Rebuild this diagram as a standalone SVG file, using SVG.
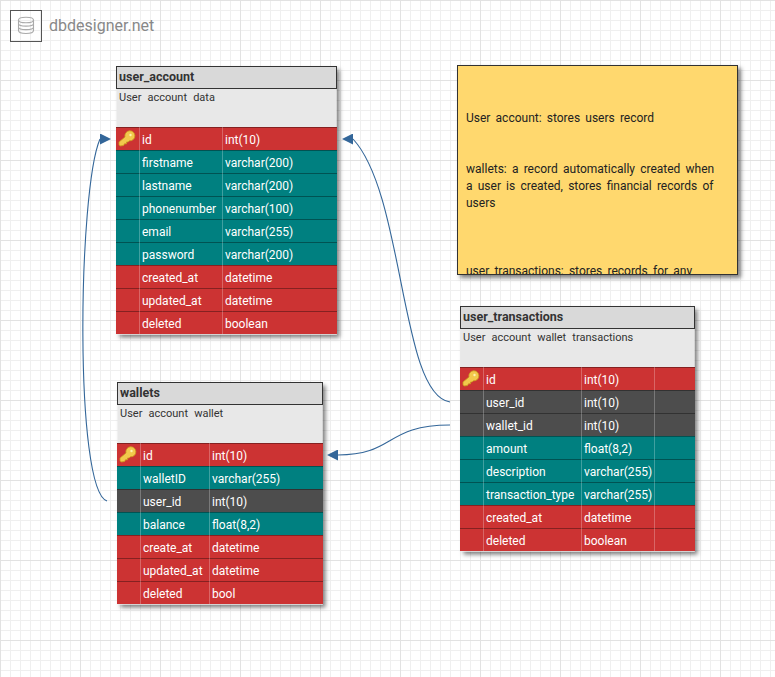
<svg xmlns="http://www.w3.org/2000/svg" width="775" height="677" viewBox="0 0 775 677">
<style>
text{font-family:Roboto,"Liberation Sans",sans-serif}
.t{font-size:12.5px;font-weight:700;fill:#333}
.d{font-size:11px;fill:#333;word-spacing:3.4px}
.c{font-size:12px;fill:#fff}
.n{font-size:12px;fill:#222;word-spacing:2.2px}
.hd{fill:#d9d9d9;stroke:#333;stroke-width:1}
.ds{fill:#e8e8e8}
.r{fill:#cc3333}.g{fill:#008080}.k{fill:#4d4d4d}
.sep{stroke:#000;stroke-opacity:.35;stroke-width:1}
.col{stroke:#fff;stroke-opacity:.25;stroke-width:1}
.conn{fill:none;stroke:#336699;stroke-width:1.1}
.key{fill:#f2c94c;stroke:#c99a1e;stroke-width:.8}
</style>
<defs>
<pattern id="minor" width="10" height="10" patternUnits="userSpaceOnUse"><path d="M.5 0V10M0 .5H10" fill="none" stroke="#efefef"/></pattern>
<pattern id="major" width="80" height="80" patternUnits="userSpaceOnUse"><path d="M.5 0V80M0 .5H80" fill="none" stroke="#e2e2e2"/></pattern>
<filter id="sh" x="-10%" y="-10%" width="120%" height="120%"><feDropShadow dx="3" dy="3" stdDeviation="2" flood-color="#000" flood-opacity=".5"/></filter>
<marker id="aL" markerWidth="11" markerHeight="11" refX="11" refY="5.5" orient="0" markerUnits="userSpaceOnUse"><path d="M0 5.5L11 0V11Z" fill="#336699"/></marker>
<marker id="aR" markerWidth="11" markerHeight="11" refX="0" refY="5.5" orient="0" markerUnits="userSpaceOnUse"><path d="M11 5.5L0 0V11Z" fill="#336699"/></marker>
<clipPath id="nc"><rect x="458" y="66" width="279" height="208"/></clipPath>
<g id="keyicon"><path class="key" d="M0 13.500L0 11L6 6A5 5 0 1 1 10.500 9.800L9 11L7.500 11L7.500 12.800L5.500 12.800L4.500 14.500L1 15Z"/><circle cx="11.500" cy="4" r="1.200" fill="#fff2b0"/></g>
</defs>
<rect width="775" height="677" fill="#fff"/>
<rect width="775" height="677" fill="url(#minor)"/>
<rect width="775" height="677" fill="url(#major)"/>

<g id="logo">
<rect x="10.500" y="10.500" width="31" height="31" fill="none" stroke="#555" stroke-width="1"/>
<g fill="none" stroke="#aaa" stroke-width="1.100"><ellipse cx="26" cy="20" rx="7.500" ry="2.800"/><path d="M18.500 20V30.500C18.500 34.500 33.500 34.500 33.500 30.500V20M18.500 23.500C18.500 27 33.500 27 33.500 23.500M18.500 27C18.500 30.500 33.500 30.500 33.500 27"/></g>
<text x="49" y="31" font-size="16" fill="#888">dbdesigner.net</text>
</g>

<g id="user_account">
<rect x="116.500" y="66.500" width="220" height="268" fill="#e8e8e8" filter="url(#sh)"/>
<rect class="hd" x="116.500" y="66.500" width="220" height="22"/>
<rect class="ds" x="117" y="89" width="219" height="38"/>
<text class="t" x="119" y="81">user_account</text>
<text class="d" x="119" y="101">User account data</text>
<rect class="r" x="116" y="127" width="221" height="23"/>
<rect class="g" x="116" y="150" width="221" height="115"/>
<rect class="r" x="116" y="265" width="221" height="69"/>
<path class="sep" d="M116 127.500H337M116 150.500H337M116 173.500H337M116 196.500H337M116 219.500H337M116 242.500H337M116 265.500H337M116 288.500H337M116 311.500H337"/>
<path class="col" d="M139.500 127V334M222.500 127V334"/>
<use href="#keyicon" x="119" y="131"/>
<text class="c" x="142" y="144">id</text><text class="c" x="225" y="144">int(10)</text>
<text class="c" x="142" y="167">firstname</text><text class="c" x="225" y="167">varchar(200)</text>
<text class="c" x="142" y="190">lastname</text><text class="c" x="225" y="190">varchar(200)</text>
<text class="c" x="142" y="213">phonenumber</text><text class="c" x="225" y="213">varchar(100)</text>
<text class="c" x="142" y="236">email</text><text class="c" x="225" y="236">varchar(255)</text>
<text class="c" x="142" y="259">password</text><text class="c" x="225" y="259">varchar(200)</text>
<text class="c" x="142" y="282">created_at</text><text class="c" x="225" y="282">datetime</text>
<text class="c" x="142" y="305">updated_at</text><text class="c" x="225" y="305">datetime</text>
<text class="c" x="142" y="328">deleted</text><text class="c" x="225" y="328">boolean</text>
</g>

<g id="wallets">
<rect x="117.500" y="382.500" width="205" height="222" fill="#e8e8e8" filter="url(#sh)"/>
<rect class="hd" x="117.500" y="382.500" width="205" height="22"/>
<rect class="ds" x="118" y="405" width="204" height="38"/>
<text class="t" x="120" y="397">wallets</text>
<text class="d" x="120" y="417">User account wallet</text>
<rect class="r" x="117" y="443" width="206" height="23"/>
<rect class="g" x="117" y="466" width="206" height="23"/>
<rect class="k" x="117" y="489" width="206" height="23"/>
<rect class="g" x="117" y="512" width="206" height="23"/>
<rect class="r" x="117" y="535" width="206" height="69"/>
<path class="sep" d="M117 443.500H323M117 466.500H323M117 489.500H323M117 512.500H323M117 535.500H323M117 558.500H323M117 581.500H323"/>
<path class="col" d="M140.500 443V604M209.500 443V604"/>
<use href="#keyicon" x="120" y="447"/>
<text class="c" x="143" y="460">id</text><text class="c" x="212" y="460">int(10)</text>
<text class="c" x="143" y="483">walletID</text><text class="c" x="212" y="483">varchar(255)</text>
<text class="c" x="143" y="506">user_id</text><text class="c" x="212" y="506">int(10)</text>
<text class="c" x="143" y="529">balance</text><text class="c" x="212" y="529">float(8,2)</text>
<text class="c" x="143" y="552">create_at</text><text class="c" x="212" y="552">datetime</text>
<text class="c" x="143" y="575">updated_at</text><text class="c" x="212" y="575">datetime</text>
<text class="c" x="143" y="598">deleted</text><text class="c" x="212" y="598">bool</text>
</g>

<g id="user_transactions">
<rect x="460.500" y="306.500" width="234" height="245" fill="#e8e8e8" filter="url(#sh)"/>
<rect class="hd" x="460.500" y="306.500" width="234" height="22"/>
<rect class="ds" x="461" y="329" width="233" height="38"/>
<text class="t" x="463" y="321">user_transactions</text>
<text class="d" x="463" y="341">User account wallet transactions</text>
<rect class="r" x="460" y="367" width="235" height="23"/>
<rect class="k" x="460" y="390" width="235" height="46"/>
<rect class="g" x="460" y="436" width="235" height="69"/>
<rect class="r" x="460" y="505" width="235" height="46"/>
<path class="sep" d="M460 367.500H695M460 390.500H695M460 413.500H695M460 436.500H695M460 459.500H695M460 482.500H695M460 505.500H695M460 528.500H695"/>
<path class="col" d="M483.500 367V551M581.500 367V551M654.500 367V551"/>
<use href="#keyicon" x="463" y="371"/>
<text class="c" x="486" y="384">id</text><text class="c" x="584" y="384">int(10)</text>
<text class="c" x="486" y="407">user_id</text><text class="c" x="584" y="407">int(10)</text>
<text class="c" x="486" y="430">wallet_id</text><text class="c" x="584" y="430">int(10)</text>
<text class="c" x="486" y="453">amount</text><text class="c" x="584" y="453">float(8,2)</text>
<text class="c" x="486" y="476">description</text><text class="c" x="584" y="476">varchar(255)</text>
<text class="c" x="486" y="499">transaction_type</text><text class="c" x="584" y="499">varchar(255)</text>
<text class="c" x="486" y="522">created_at</text><text class="c" x="584" y="522">datetime</text>
<text class="c" x="486" y="545">deleted</text><text class="c" x="584" y="545">boolean</text>
</g>

<g id="note">
<rect x="457.500" y="65.500" width="280" height="209" fill="#ffd86e" stroke="#333" filter="url(#sh)"/>
<g clip-path="url(#nc)">
<text class="n" x="466" y="122">User account: stores users record</text>
<text class="n" x="466" y="173">wallets: a record automatically created when</text>
<text class="n" x="466" y="190">a user is created, stores financial records of</text>
<text class="n" x="466" y="207">users</text>
<text class="n" x="466" y="275">user transactions: stores records for any</text>
</g>
</g>

<g id="connectors">
<path class="conn" marker-end="url(#aR)" d="M107 501C74 490 78 190 100 139"/>
<path class="conn" marker-end="url(#aL)" d="M450 402C400 395 405 195 353 139"/>
<path class="conn" marker-end="url(#aL)" d="M450 425C385 425 395 455 338 455"/>
</g>
</svg>
